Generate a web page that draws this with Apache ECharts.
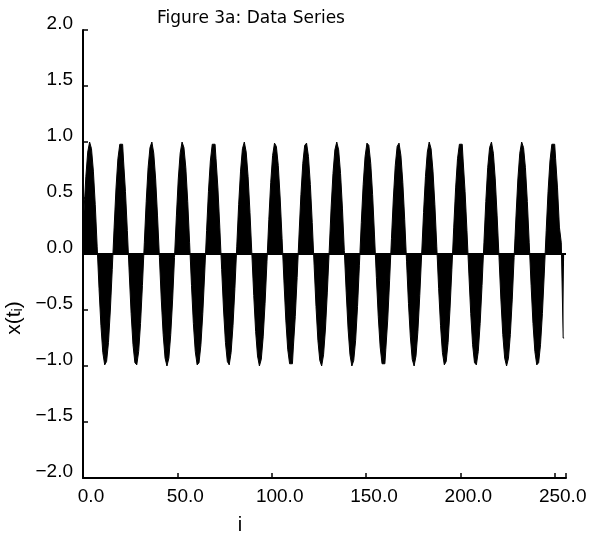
<!DOCTYPE html>
<html style="height: 100%">
  <head>
    <meta charset="UTF-8" />
    <title>Figure 3a</title>
    <script src="https://cdn.jsdelivr.net/npm/echarts@6/dist/echarts.min.js"></script>
  </head>
  <body style="height: 100%; margin: 0; background: #fff">
    <div id="main" style="width: 591px; height: 537px"></div>
    <script>
      // x(t_i), i = 0 .. 255
      var values = [
        0.00, 0.37, 0.69, 0.91, 1.00, 0.94, 0.74, 0.44, 0.07, -0.31, -0.64, -0.88, -0.99, -0.96, -0.79, -0.50,
        -0.14, 0.24, 0.59, 0.85, 0.98, 0.98, 0.83, 0.56, 0.21, -0.17, -0.53, -0.81, -0.97, -0.99, -0.87, -0.62,
        -0.28, 0.10, 0.47, 0.77, 0.95, 1.00, 0.90, 0.67, 0.34, -0.03, -0.41, -0.72, -0.93, -1.00, -0.93, -0.72,
        -0.41, -0.03, 0.34, 0.67, 0.90, 1.00, 0.95, 0.77, 0.47, 0.10, -0.28, -0.62, -0.87, -0.99, -0.97, -0.81,
        -0.53, -0.17, 0.21, 0.56, 0.83, 0.98, 0.98, 0.85, 0.59, 0.24, -0.14, -0.50, -0.79, -0.96, -0.99, -0.88,
        -0.64, -0.31, 0.07, 0.44, 0.74, 0.94, 1.00, 0.91, 0.69, 0.37, 0.00, -0.37, -0.69, -0.91, -1.00, -0.94,
        -0.74, -0.44, -0.07, 0.31, 0.64, 0.88, 0.99, 0.96, 0.79, 0.50, 0.14, -0.24, -0.59, -0.85, -0.98, -0.98,
        -0.83, -0.56, -0.21, 0.17, 0.53, 0.81, 0.97, 0.99, 0.87, 0.62, 0.28, -0.10, -0.47, -0.77, -0.95, -1.00,
        -0.90, -0.67, -0.34, 0.03, 0.41, 0.72, 0.93, 1.00, 0.93, 0.72, 0.41, 0.03, -0.34, -0.67, -0.90, -1.00,
        -0.95, -0.77, -0.47, -0.10, 0.28, 0.62, 0.87, 0.99, 0.97, 0.81, 0.53, 0.17, -0.21, -0.56, -0.83, -0.98,
        -0.98, -0.85, -0.59, -0.24, 0.14, 0.50, 0.79, 0.96, 0.99, 0.88, 0.64, 0.31, -0.07, -0.44, -0.74, -0.94,
        -1.00, -0.91, -0.69, -0.37, 0.00, 0.37, 0.69, 0.91, 1.00, 0.94, 0.74, 0.44, 0.07, -0.31, -0.64, -0.88,
        -0.99, -0.96, -0.79, -0.50, -0.14, 0.24, 0.59, 0.85, 0.98, 0.98, 0.83, 0.56, 0.21, -0.17, -0.53, -0.81,
        -0.97, -0.99, -0.87, -0.62, -0.28, 0.10, 0.47, 0.77, 0.95, 1.00, 0.90, 0.67, 0.34, -0.03, -0.41, -0.72,
        -0.93, -1.00, -0.93, -0.72, -0.41, -0.03, 0.34, 0.67, 0.90, 1.00, 0.95, 0.77, 0.47, 0.10, -0.28, -0.62,
        -0.87, -0.99, -0.97, -0.81, -0.53, -0.17, 0.21, 0.56, 0.83, 0.98, 0.98, 0.85, 0.59, 0.24, 0.10, -0.75
      ];
      var xTicks = [0, 50, 100, 150, 200, 250];
      var yTicks = [-2, -1.5, -1, -0.5, 0, 0.5, 1, 1.5, 2];

      var myChart = echarts.init(document.getElementById('main'), null, { renderer: 'canvas' });

      var labelFont = 'Liberation Sans';
      function fmt(v) {
        return (v < 0 ? '\u2212' : '') + Math.abs(v).toFixed(1);
      }

      var option = {
        animation: false,
        backgroundColor: '#fff',
        title: {
          text: 'Figure 3a: Data Series',
          left: 152,
          top: 5,
          textStyle: { fontFamily: 'DejaVu Sans', fontWeight: 'normal', fontSize: 17, color: '#000' }
        },
        grid: { left: 83, right: 25, top: 30, bottom: 59 },
        xAxis: {
          type: 'value',
          min: 0,
          max: 256,
          interval: 50,
          axisLine: { onZero: false, lineStyle: { color: '#000', width: 2 } },
          axisTick: { inside: true, length: 5, lineStyle: { color: '#000', width: 1.5 } },
          splitLine: { show: false },
          axisLabel: {
            color: '#000',
            fontFamily: labelFont,
            fontSize: 19,
            margin: 9,
            padding: [0, 0, 0, 16],
            formatter: function (v) {
              return xTicks.indexOf(v) >= 0 ? v.toFixed(1) : '';
            }
          }
        },
        yAxis: {
          type: 'value',
          min: yTicks[0],
          max: yTicks[yTicks.length - 1],
          interval: 0.5,
          axisLine: { show: true, onZero: false, lineStyle: { color: '#000', width: 2 } },
          axisTick: { show: true, inside: true, length: 5, lineStyle: { color: '#000', width: 1.5 } },
          splitLine: { show: false },
          axisLabel: {
            color: '#000',
            fontFamily: labelFont,
            fontSize: 19,
            margin: 10,
            verticalAlign: 'bottom',
            lineHeight: 12,
            formatter: fmt
          }
        },
        graphic: [
          {
            type: 'text',
            x: 14,
            y: 318,
            rotation: Math.PI / 2,
            style: {
              text: 'x(t{s|i})',
              rich: { s: { fontSize: 14, fontFamily: labelFont, padding: [9, 0, 0, 0] } },
              font: '21px "Liberation Sans"',
              fill: '#000',
              align: 'center',
              verticalAlign: 'middle'
            }
          },
          {
            type: 'text',
            x: 240,
            y: 525,
            style: {
              text: 'i',
              font: '20px "Liberation Sans"',
              fill: '#000',
              align: 'center',
              verticalAlign: 'middle'
            }
          }
        ],
        series: [
          {
            type: 'line',
            step: 'middle',
            data: values.map(function (v, i) {
              return [i, v];
            }),
            showSymbol: false,
            silent: true,
            lineStyle: { color: '#000', width: 1 },
            areaStyle: { color: '#000', opacity: 1, origin: 'auto' },
            markLine: {
              silent: true,
              symbol: 'none',
              label: { show: false },
              lineStyle: { color: '#000', width: 2, type: 'solid' },
              data: [{ yAxis: 0 }]
            }
          }
        ]
      };

      myChart.setOption(option);
    </script>
  </body>
</html>
